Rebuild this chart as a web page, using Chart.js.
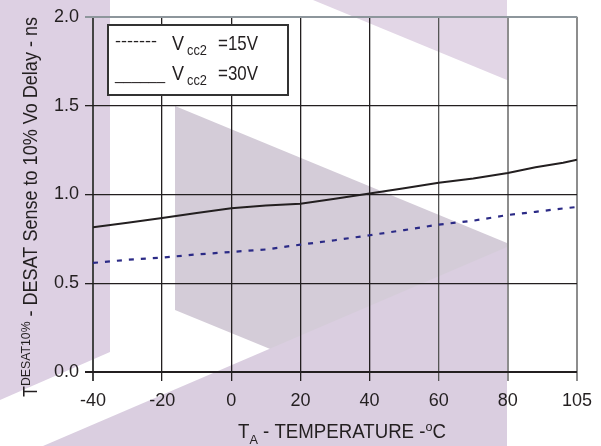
<!DOCTYPE html>
<html>
<head>
<meta charset="utf-8">
<script src="https://cdn.jsdelivr.net/npm/chart.js@4/dist/chart.umd.min.js"></script>
<style>
html,body{margin:0;padding:0;background:#fff;}
#wrap{width:601px;height:446px;position:relative;}
</style>
</head>
<body>
<div id="wrap"><canvas id="c" width="601" height="446"></canvas></div>
<script>
// ---- data ----
const temperatures = [-40,-30,-20,-10,0,10,20,30,40,50,60,70,80,90,100,105];
const delayVcc15 = [0.614,0.632,0.644,0.662,0.676,0.690,0.717,0.742,0.770,0.799,0.830,0.852,0.884,0.902,0.921,0.929];
const delayVcc30 = [0.815,0.840,0.867,0.895,0.922,0.938,0.948,0.976,1.005,1.035,1.065,1.090,1.120,1.153,1.178,1.195];
const xTickLabels = [-40,-20,0,20,40,60,80,105];
const yTickValues = [0,0.5,1.0,1.5,2.0];
const legendSamples = ['-------','______'];
const legendNames = [['V','cc2','=15V'],['V','cc2','=30V']];
const xTitleParts = [['T',''],['A','sub'],[' - TEMPERATURE -',''],['o','sup'],['C','']];
const yTitleParts = [['T',''],['DESAT10%','sup'],[' - DESAT Sense to 10% Vo Delay - ns','']];

// the reference axis places 105 one grid step after 80
function axisPos(t){ return t <= 80 ? t : 80 + (t - 80) * 20 / 25; }

const FONT = '"Liberation Sans",Arial,sans-serif';
const TXT = '#231f20';

const watermark = {
  id:'watermark',
  beforeDraw(chart){
    const c = chart.ctx;
    c.save();
    c.fillStyle = '#fff';
    c.fillRect(0,0,chart.width,chart.height);
    const poly = (pts,col)=>{ c.beginPath(); c.moveTo(pts[0][0],pts[0][1]); for(let i=1;i<pts.length;i++) c.lineTo(pts[i][0],pts[i][1]); c.closePath(); c.fillStyle=col; c.fill(); };
    poly([[0,0],[110,0],[110,352],[0,400]],'#ddd0e3');
    poly([[313,0],[507,0],[507,80]],'#e2d6e6');
    poly([[175,106],[507,243],[507,446],[175,310]],'#d4ccd8');
    poly([[43,446],[507,247],[507,446]],'#dacee0');
    c.restore();
  }
};

// draw rich text (sub/superscripts) centred at x, squeezed horizontally to a target width
function drawParts(c, parts, base, x, y, targetW){
  const segs = parts.map(([t,k])=>{
    const size = k ? base*0.68 : base;
    c.font = size + 'px ' + FONT;
    return {t, k, size, w: c.measureText(t).width};
  });
  const total = segs.reduce((a,s)=>a+s.w,0);
  const sx = targetW / total;
  c.save();
  c.translate(x - targetW/2, y);
  c.scale(sx, 1);
  c.textBaseline = 'alphabetic';
  c.textAlign = 'left';
  let cx = 0;
  for(const s of segs){
    c.font = s.size + 'px ' + FONT;
    const dy = s.k === 'sub' ? base*0.28 : (s.k === 'sup' ? -base*0.36 : 0);
    c.fillText(s.t, cx, dy);
    cx += s.w;
  }
  c.restore();
}

function fitText(c, t, size, x, y, w){
  c.font = size + 'px ' + FONT;
  const m = c.measureText(t).width;
  c.save();
  c.translate(x, y);
  c.scale(w / m, 1);
  c.fillText(t, 0, 0);
  c.restore();
}

const decorations = {
  id:'decorations',
  afterDraw(chart){
    const c = chart.ctx;
    c.save();
    // legend box
    c.fillStyle = '#fff';
    c.fillRect(108,25,180,70);
    c.strokeStyle = '#333';
    c.lineWidth = 2;
    c.strokeRect(108,25,180,70);
    c.fillStyle = TXT;
    c.textAlign='left'; c.textBaseline='alphabetic';
    const rows = [50, 80];
    for(let i=0;i<2;i++){
      fitText(c, legendSamples[i], 17, 115, rows[i] - (i===0?4:0), i===0?42:50);
      const [v,sub,rest] = legendNames[i];
      fitText(c, v, 21, 172, rows[i], 12);
      fitText(c, sub, 15, 187, rows[i]+5, 20);
      fitText(c, rest, 21, 218, rows[i], 40);
    }
    // x title
    drawParts(c, xTitleParts, 20, 342, 438, 208);
    // y title
    c.translate(37, 207);
    c.rotate(-Math.PI/2);
    drawParts(c, yTitleParts, 20, 0, 0, 380);
    c.restore();
  }
};

new Chart(document.getElementById('c'), {
  type:'line',
  data:{
    datasets:[
      {label:'Vcc2 =15V', data: temperatures.map((t,i)=>({x:axisPos(t), y:delayVcc15[i]})),
       borderColor:'#2b2a86', borderWidth:2.2, borderDash:[5,7], pointRadius:0, fill:false, tension:0},
      {label:'Vcc2 =30V', data: temperatures.map((t,i)=>({x:axisPos(t), y:delayVcc30[i]})),
       borderColor:'#231f20', borderWidth:2, pointRadius:0, fill:false, tension:0}
    ]
  },
  options:{
    responsive:false, animation:false, devicePixelRatio:1,
    layout:{padding:{top:16,right:22,left:0,bottom:0}},
    plugins:{legend:{display:false}, tooltip:{enabled:false}},
    scales:{
      x:{
        type:'linear', min:-40, max:100,
        afterBuildTicks(scale){ scale.ticks = xTickLabels.map(v=>({value:axisPos(v)})); },
        afterFit(scale){ scale.height = 74; },
        border:{display:false},
        grid:{
          color(ctx){ const v=ctx.tick&&ctx.tick.value; return (v>=80)?'#8d8d8d':(v===60?'#555':(v===-40?'#444':'#231f20')); },
          lineWidth(ctx){ const v=ctx.tick&&ctx.tick.value; return (v>=80||v===-40)?2:1.3; },
          tickLength:9, drawTicks:true
        },
        ticks:{
          autoSkip:false, maxRotation:0, padding:9, color:TXT,
          font:{family:FONT, size:18},
          callback(v, i){ return String(xTickLabels[i]); }
        }
      },
      y:{
        type:'linear', min:0, max:2,
        afterBuildTicks(scale){ scale.ticks = yTickValues.map(v=>({value:v})); },
        afterFit(scale){ scale.width = 93; },
        border:{display:false},
        grid:{
          color(ctx){ const v=ctx.tick&&ctx.tick.value; return v===2?'#8d969c':'#231f20'; },
          lineWidth(ctx){ const v=ctx.tick&&ctx.tick.value; return (v===2||v===0)?2:1.3; },
          tickLength:8, drawTicks:true
        },
        ticks:{
          padding:6, color:TXT, font:{family:FONT, size:18},
          callback(v){ return Number(v).toFixed(1); }
        }
      }
    }
  },
  plugins:[watermark, decorations]
});
</script>
</body>
</html>
